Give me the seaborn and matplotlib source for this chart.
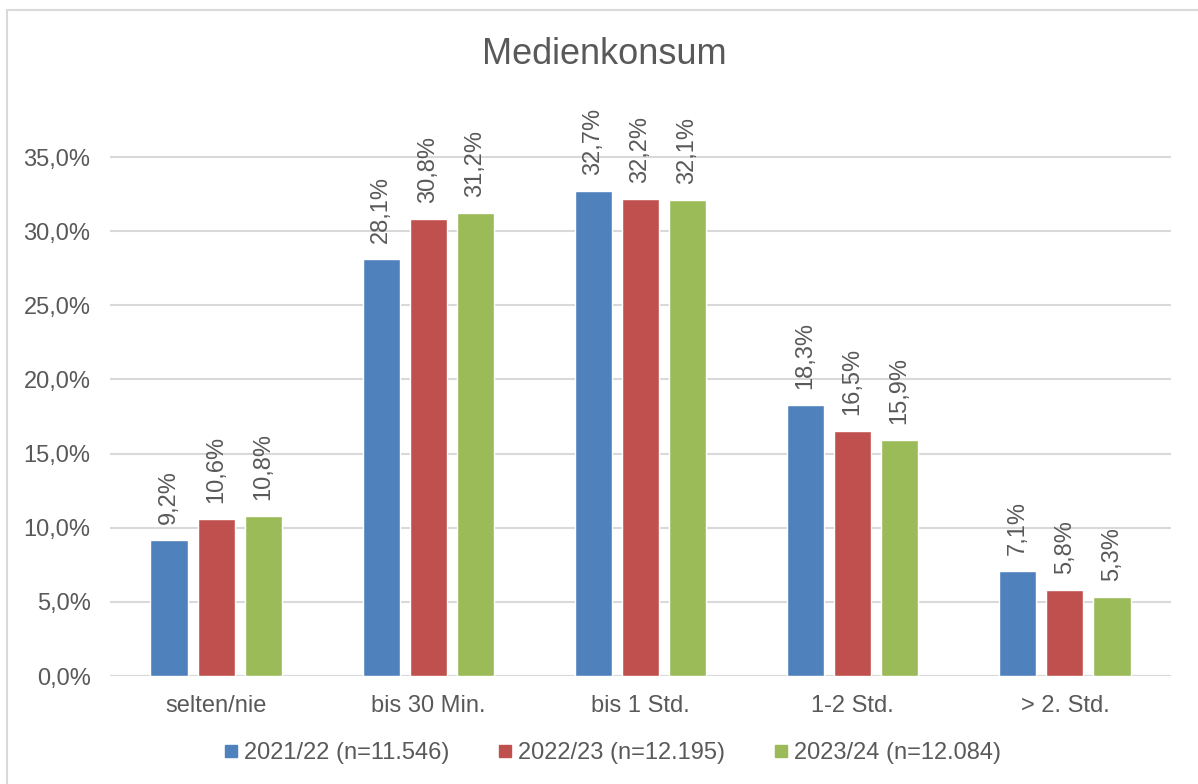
import matplotlib
matplotlib.use("Agg")
import matplotlib.pyplot as plt
from matplotlib.lines import Line2D
from matplotlib.ticker import FuncFormatter
import seaborn as sns
import pandas as pd

# data (percent)
categories = ["selten/nie", "bis 30 Min.", "bis 1 Std.", "1-2 Std.", "> 2. Std."]
series = ["2021/22 (n=11.546)", "2022/23 (n=12.195)", "2023/24 (n=12.084)"]
values_2021 = [9.2, 28.1, 32.7, 18.3, 7.1]
values_2022 = [10.6, 30.8, 32.2, 16.5, 5.8]
values_2023 = [10.8, 31.2, 32.1, 15.9, 5.3]
colors = ["#4F81BD", "#C0504D", "#9BBB59"]

df = pd.DataFrame({
    "kategorie": categories * 3,
    "jahr": [s for s in series for _ in categories],
    "anteil": values_2021 + values_2022 + values_2023,
})

sns.set_theme(style="white")
plt.rcParams["font.family"] = ["Liberation Sans", "DejaVu Sans"]
TXT = "#595959"
GRID = "#D9D9D9"

fig = plt.figure(figsize=(11.98, 7.84), dpi=100)
ax = fig.add_axes([110 / 1198, 108 / 784, 1061 / 1198, 556 / 784])

sns.barplot(
    data=df, x="kategorie", y="anteil", hue="jahr",
    order=categories, hue_order=series, palette=colors,
    width=0.665, gap=0.21, saturation=1, ax=ax, legend=False,
)

for cont in ax.containers:
    labels = [f"{b.get_height():.1f}%".replace(".", ",") for b in cont]
    ax.bar_label(cont, labels=labels, rotation=90, padding=11.5,
                 fontsize=17, color=TXT)

ax.set_ylim(0, 37.5)
ax.set_xlim(-0.5, 4.5)
ax.set_yticks([0, 5, 10, 15, 20, 25, 30, 35])
ax.yaxis.set_major_formatter(FuncFormatter(lambda v, _: f"{v:.1f}%".replace(".", ",")))
ax.yaxis.grid(True, color=GRID, linewidth=1.5)
ax.set_axisbelow(True)
for sp in ax.spines.values():
    sp.set_visible(False)
ax.axhline(0, color=GRID, linewidth=1.5, zorder=0)
ax.tick_params(axis="y", length=0, pad=14, labelsize=17, labelcolor=TXT)
ax.tick_params(axis="x", length=0, pad=14, labelsize=17, labelcolor=TXT)
ax.set_xlabel("")
ax.set_ylabel("")

fig.text(604 / 1198, 1 - 55 / 784, "Medienkonsum", ha="center", va="center",
         fontsize=26, color=TXT)

handles = [Line2D([0], [0], marker="s", linestyle="none", markersize=8,
                  markerfacecolor=c, markeredgecolor=c) for c in colors]
fig.legend(handles, series, loc="center", ncol=3,
           bbox_to_anchor=(613 / 1198, 1 - 753 / 784), frameon=False,
           fontsize=17, labelcolor=TXT, handlelength=0.5, handletextpad=0.3,
           columnspacing=2.1)

# light outer frame (only top and left edges visible in the original)
fig.add_artist(Line2D([7 / 1198, 1], [1 - 10 / 784, 1 - 10 / 784],
                      transform=fig.transFigure, color=GRID, linewidth=1.5))
fig.add_artist(Line2D([7 / 1198, 7 / 1198], [0, 1 - 10 / 784],
                      transform=fig.transFigure, color=GRID, linewidth=1.5))

fig.savefig("out.png", dpi=100)
